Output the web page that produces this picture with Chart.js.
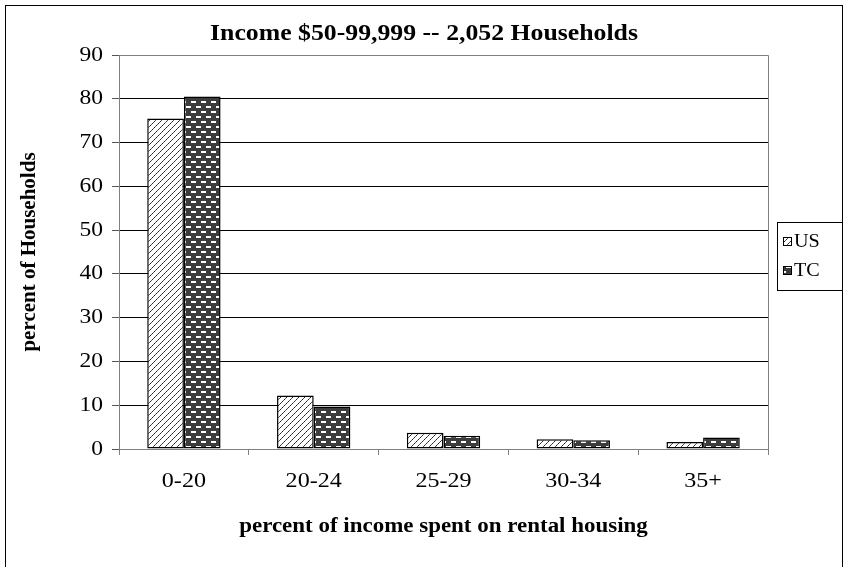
<!DOCTYPE html>
<html>
<head>
<meta charset="utf-8">
<script src="https://cdn.jsdelivr.net/npm/chart.js@4/dist/chart.umd.min.js"></script>
<style>
  html, body { margin: 0; padding: 0; background: #fff; }
  #wrap { width: 848px; height: 567px; position: relative; }
</style>
</head>
<body>
<div id="wrap"><canvas id="chart"></canvas></div>
<script>
  // data
  const categories = ['0-20', '20-24', '25-29', '30-34', '35+'];
  const seriesNames = ['US', 'TC'];
  const usValues = [75.5, 12.2, 3.7, 2.2, 1.6];
  const tcValues = [80.5, 9.7, 3.0, 2.0, 2.6];
  const yMin = 0, yMax = 90, yStep = 10;

  const FONT = '"Liberation Serif", "Times New Roman", serif';
  // the original picture has its horizontal text a little wide
  const TEXT_STRETCH = 1.12;

  // fill patterns, like the old Excel ones
  function hatchPattern() {
    const c = document.createElement('canvas');
    c.width = 6; c.height = 6;
    const g = c.getContext('2d');
    g.fillStyle = '#fff';
    g.fillRect(0, 0, 6, 6);
    for (let i = 0; i < 6; i++) {
      g.fillStyle = i % 2 ? '#555' : '#222';
      g.fillRect(i, 5 - i, 1, 1);
    }
    return g.createPattern(c, 'repeat');
  }
  function brickPattern() {
    const c = document.createElement('canvas');
    c.width = 10; c.height = 10;
    const g = c.getContext('2d');
    g.fillStyle = '#3c3c3c';
    g.fillRect(0, 0, 10, 10);
    g.fillStyle = '#fff';
    g.fillRect(1, 1, 5, 2);
    g.fillRect(6, 6, 4, 2);
    g.fillRect(0, 6, 1, 2);
    return g.createPattern(c, 'repeat');
  }

  const canvas = document.getElementById('chart');
  const ctx2d = canvas.getContext('2d');
  const rawFillText = ctx2d.fillText;
  ctx2d.fillText = function (text, x, y, maxWidth) {
    const m = this.getTransform();
    if (m.b !== 0 || m.c !== 0) {
      // rotated text (the y title) is left as it is
      return maxWidth === undefined ? rawFillText.call(this, text, x, y)
                                    : rawFillText.call(this, text, x, y, maxWidth);
    }
    const p = m.transformPoint(new DOMPoint(x, y));
    this.save();
    this.setTransform(new DOMMatrix()
      .translate(p.x, p.y).scale(TEXT_STRETCH, 1).translate(-p.x, -p.y)
      .multiply(m));
    if (maxWidth === undefined) rawFillText.call(this, text, x, y);
    else rawFillText.call(this, text, x, y, maxWidth);
    this.restore();
  };

  const frame = {
    id: 'frame',
    beforeDraw(chart) {
      const ctx = chart.ctx;
      ctx.save();
      ctx.fillStyle = '#fff';
      ctx.fillRect(0, 0, chart.width, chart.height);
      ctx.restore();
    },
    afterDatasetsDraw(chart) {
      const { ctx, chartArea: a } = chart;
      ctx.save();
      ctx.strokeStyle = '#808080';
      ctx.lineWidth = 1;
      ctx.beginPath();
      ctx.moveTo(Math.round(a.left) + 0.5, Math.round(a.top) + 0.5);
      ctx.lineTo(Math.round(a.right) + 0.5, Math.round(a.top) + 0.5);
      ctx.lineTo(Math.round(a.right) + 0.5, Math.round(a.bottom) + 0.5);
      ctx.stroke();
      ctx.restore();
    },
    afterDraw(chart) {
      const ctx = chart.ctx;
      ctx.save();
      // outer chart border
      ctx.strokeStyle = '#000';
      ctx.lineWidth = 1;
      ctx.strokeRect(5.5, 5.5, 837, 600);
      // legend box
      const lx = 777, ly = 222;
      ctx.strokeRect(lx + 0.5, ly + 0.5, 65, 68);
      ctx.font = '18px ' + FONT;
      ctx.textBaseline = 'middle';
      chart.data.datasets.forEach((ds, i) => {
        const cy = ly + 19 + i * 29;
        ctx.fillStyle = ds.backgroundColor;
        ctx.fillRect(lx + 6, cy - 4, 9, 9);
        ctx.strokeStyle = '#000';
        ctx.lineWidth = 1;
        ctx.strokeRect(lx + 6.5, cy - 3.5, 8, 8);
        ctx.fillStyle = '#000';
        ctx.fillText(ds.label, lx + 17, cy + 1);
      });
      ctx.restore();
    }
  };

  new Chart(ctx2d, {
    type: 'bar',
    plugins: [frame],
    data: {
      labels: categories,
      datasets: [
        {
          label: seriesNames[0],
          data: usValues,
          backgroundColor: hatchPattern(),
          borderColor: '#000',
          borderWidth: 1.5,
          borderSkipped: false
        },
        {
          label: seriesNames[1],
          data: tcValues,
          backgroundColor: brickPattern(),
          borderColor: '#000',
          borderWidth: 1.5,
          borderSkipped: false
        }
      ]
    },
    options: {
      responsive: true,
      maintainAspectRatio: false,
      animation: false,
      events: [],
      layout: { padding: { left: 0, top: 5, right: 0, bottom: 0 } },
      datasets: { bar: { categoryPercentage: 0.565, barPercentage: 1 } },
      plugins: {
        legend: { display: false },
        tooltip: { enabled: false },
        title: {
          display: true,
          text: 'Income $50-99,999 -- 2,052 Households',
          color: '#000',
          font: { family: FONT, size: 23, weight: 'bold', lineHeight: 1.2 },
          padding: { top: 15, bottom: 7.4 }
        }
      },
      scales: {
        x: {
          afterFit(scale) { scale.height = 118; },
          grid: {
            offset: true,
            drawOnChartArea: false,
            drawTicks: true,
            tickLength: 6,
            color: '#808080'
          },
          border: { color: '#808080', width: 1 },
          ticks: {
            color: '#000',
            padding: 13,
            maxRotation: 0,
            font: { family: FONT, size: 21.5 }
          },
          title: {
            display: true,
            text: 'percent of income spent on rental housing',
            color: '#000',
            font: { family: FONT, size: 20.5, weight: 'bold', lineHeight: 1.2 },
            padding: { top: 28, bottom: 28 }
          }
        },
        y: {
          min: yMin,
          max: yMax,
          afterFit(scale) { scale.width = 119; },
          grid: {
            color: '#000',
            tickColor: '#555',
            tickLength: 7,
            drawTicks: true
          },
          border: { color: '#808080', width: 1 },
          ticks: {
            stepSize: yStep,
            color: '#000',
            padding: 9,
            font: { family: FONT, size: 21 }
          },
          title: {
            display: true,
            text: 'percent of Households',
            color: '#000',
            font: { family: FONT, size: 21, weight: 'bold', lineHeight: 1.2 },
            padding: { top: 17, bottom: 17 }
          }
        },
        // empty room on the right for the legend
        side: {
          type: 'linear',
          position: 'right',
          afterFit(scale) { scale.width = 80; },
          grid: { display: false },
          border: { display: false },
          ticks: { display: false }
        }
      }
    }
  });
</script>
</body>
</html>
